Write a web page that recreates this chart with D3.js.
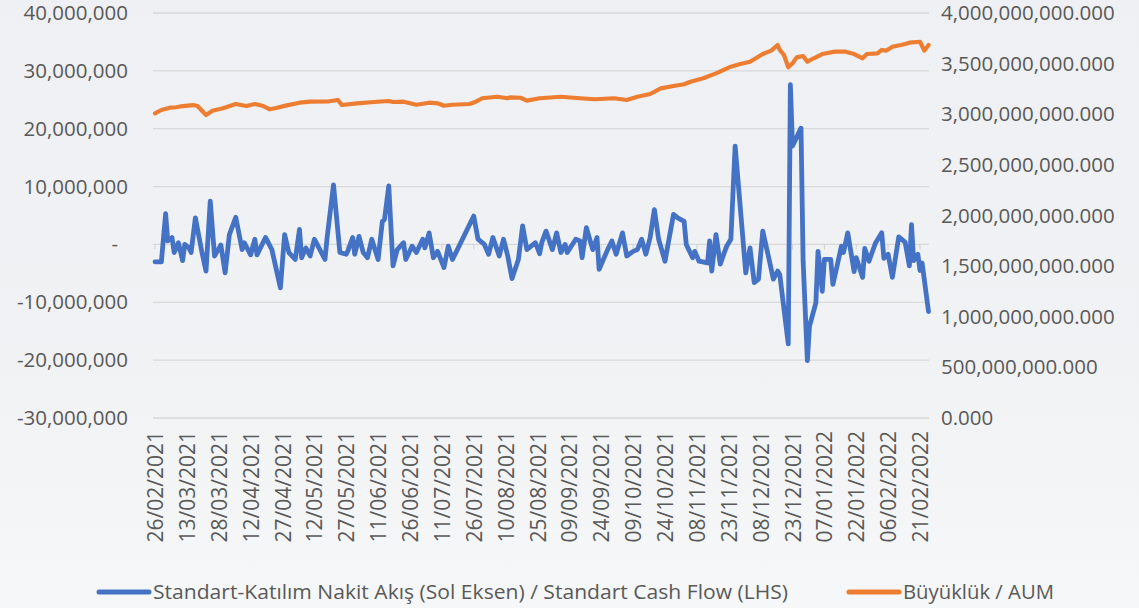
<!DOCTYPE html>
<html>
<head>
<meta charset="utf-8">
<script src="https://cdn.jsdelivr.net/npm/d3@7"></script>
<style>
  html, body { margin: 0; padding: 0; }
  body { width: 1139px; height: 608px; overflow: hidden; }
</style>
</head>
<body>
<svg id="chart" width="1139" height="608"></svg>
<script>
// cash flow (left axis, TL)
var flowDates = ["2021-02-26","2021-03-01","2021-03-03","2021-03-04","2021-03-06","2021-03-07","2021-03-09","2021-03-11","2021-03-12","2021-03-14","2021-03-15","2021-03-17","2021-03-20","2021-03-22","2021-03-24","2021-03-26","2021-03-29","2021-03-31","2021-04-02","2021-04-05","2021-04-08","2021-04-09","2021-04-12","2021-04-14","2021-04-15","2021-04-19","2021-04-22","2021-04-26","2021-04-28","2021-04-30","2021-05-03","2021-05-05","2021-05-06","2021-05-08","2021-05-10","2021-05-12","2021-05-17","2021-05-18","2021-05-21","2021-05-24","2021-05-27","2021-05-28","2021-05-30","2021-05-31","2021-06-02","2021-06-04","2021-06-06","2021-06-08","2021-06-11","2021-06-13","2021-06-14","2021-06-16","2021-06-18","2021-06-20","2021-06-23","2021-06-24","2021-06-27","2021-06-29","2021-07-02","2021-07-03","2021-07-05","2021-07-07","2021-07-09","2021-07-12","2021-07-14","2021-07-16","2021-07-26","2021-07-28","2021-07-31","2021-08-02","2021-08-04","2021-08-07","2021-08-09","2021-08-11","2021-08-13","2021-08-16","2021-08-18","2021-08-20","2021-08-24","2021-08-26","2021-08-27","2021-08-29","2021-09-01","2021-09-03","2021-09-05","2021-09-07","2021-09-08","2021-09-12","2021-09-14","2021-09-15","2021-09-17","2021-09-20","2021-09-22","2021-09-23","2021-09-27","2021-09-29","2021-10-01","2021-10-04","2021-10-06","2021-10-09","2021-10-11","2021-10-13","2021-10-15","2021-10-17","2021-10-19","2021-10-21","2021-10-24","2021-10-28","2021-10-30","2021-11-02","2021-11-03","2021-11-06","2021-11-07","2021-11-09","2021-11-13","2021-11-14","2021-11-15","2021-11-17","2021-11-19","2021-11-22","2021-11-24","2021-11-26","2021-12-01","2021-12-03","2021-12-05","2021-12-07","2021-12-09","2021-12-12","2021-12-14","2021-12-16","2021-12-17","2021-12-21","2021-12-22","2021-12-23","2021-12-27","2021-12-28","2021-12-30","2021-12-31","2022-01-03","2022-01-04","2022-01-06","2022-01-07","2022-01-10","2022-01-11","2022-01-13","2022-01-15","2022-01-16","2022-01-18","2022-01-21","2022-01-22","2022-01-25","2022-01-26","2022-01-28","2022-01-31","2022-02-03","2022-02-04","2022-02-06","2022-02-08","2022-02-11","2022-02-14","2022-02-16","2022-02-17","2022-02-18","2022-02-20","2022-02-21","2022-02-22","2022-02-25"];
var flowValues = [-3.0,-3.0,5.3,0.6,1.2,-1.4,0.3,-2.8,0,-0.6,-1.4,4.6,-1.2,-4.6,7.5,-2.0,-0.1,-4.9,1.7,4.7,-0.9,0.3,-1.8,0.9,-1.8,1.2,-0.9,-7.5,1.7,-1.4,-2.6,2.6,-2.3,-0.6,-2.0,0.9,-2.6,1.2,10.3,-1.4,-1.7,-0.9,1.2,-1.7,1.4,-1.4,-2.3,0.9,-2.6,4.0,4.3,10.1,-3.7,-0.9,0.3,-2.6,-0.3,-1.4,0.9,-0.6,2.0,-2.3,-1.2,-4.0,-0.3,-2.6,4.9,0.9,0,-1.7,1.2,-2.0,0.9,-2.0,-5.9,-2.6,3.2,-0.9,0.3,-1.6,0.3,2.3,-0.9,2.0,-1.4,0,-1.4,0.9,0.6,-2.3,2.9,-0.9,1.2,-4.3,-0.9,0.6,-1.7,2.0,-2.0,-1.2,-0.9,0.9,-1.7,1.2,6.0,0.9,-2.9,5.2,4.6,4.0,0,-2.3,-1.2,-2.9,-3.2,0.6,-4.6,1.7,-3.4,-0.3,0.9,17.0,-4.9,-0.6,-6.6,-6.0,2.3,-2.6,-6.0,-4.6,-5.2,-17.2,27.6,17.0,20.1,-2.9,-20.1,-14.1,-10.1,-1.2,-8.1,-2.6,-2.6,-6.9,-3.7,-0.3,-1.4,2.0,-4.7,-2.3,-5.7,-0.7,-2.9,0.2,2.0,-2.4,-1.7,-5.7,1.3,0.4,-3.7,3.4,-2.8,-1.7,-4.5,-3.2,-11.6]; // millions

// fund size (right axis)
var aumDates = ["2021-02-26","2021-03-01","2021-03-05","2021-03-08","2021-03-11","2021-03-16","2021-03-18","2021-03-22","2021-03-25","2021-03-30","2021-04-05","2021-04-10","2021-04-14","2021-04-18","2021-04-21","2021-04-24","2021-04-29","2021-05-05","2021-05-10","2021-05-19","2021-05-23","2021-05-25","2021-06-01","2021-06-09","2021-06-16","2021-06-18","2021-06-23","2021-06-29","2021-07-05","2021-07-09","2021-07-12","2021-07-16","2021-07-24","2021-07-27","2021-07-30","2021-08-06","2021-08-11","2021-08-12","2021-08-17","2021-08-20","2021-08-26","2021-09-05","2021-09-14","2021-09-21","2021-09-30","2021-10-06","2021-10-11","2021-10-17","2021-10-22","2021-10-28","2021-11-02","2021-11-05","2021-11-11","2021-11-17","2021-11-24","2021-11-28","2021-12-03","2021-12-09","2021-12-13","2021-12-16","2021-12-17","2021-12-19","2021-12-21","2021-12-23","2021-12-25","2021-12-28","2021-12-30","2022-01-02","2022-01-06","2022-01-12","2022-01-17","2022-01-21","2022-01-25","2022-01-27","2022-02-01","2022-02-03","2022-02-05","2022-02-08","2022-02-12","2022-02-14","2022-02-16","2022-02-21","2022-02-23","2022-02-25"];
var aumValues = [3.009,3.042,3.065,3.069,3.081,3.091,3.081,2.993,3.035,3.059,3.101,3.081,3.101,3.081,3.049,3.062,3.088,3.114,3.124,3.128,3.141,3.091,3.108,3.121,3.131,3.121,3.124,3.094,3.114,3.108,3.084,3.094,3.101,3.124,3.158,3.173,3.158,3.167,3.163,3.134,3.158,3.173,3.158,3.148,3.158,3.141,3.173,3.200,3.256,3.279,3.296,3.321,3.355,3.404,3.470,3.493,3.519,3.595,3.628,3.684,3.635,3.585,3.464,3.503,3.562,3.575,3.519,3.553,3.595,3.618,3.618,3.595,3.553,3.595,3.602,3.635,3.628,3.667,3.684,3.694,3.707,3.716,3.628,3.684]; // billions

var leftTicks = [-30e6, -20e6, -10e6, 0, 10e6, 20e6, 30e6, 40e6];
var leftLabels = ["-30,000,000","-20,000,000","-10,000,000","-","10,000,000","20,000,000","30,000,000","40,000,000"];
var rightTicks = [0, 0.5e9, 1e9, 1.5e9, 2e9, 2.5e9, 3e9, 3.5e9, 4e9];
var rightLabels = ["0.000","500,000,000.000","1,000,000,000.000","1,500,000,000.000","2,000,000,000.000","2,500,000,000.000","3,000,000,000.000","3,500,000,000.000","4,000,000,000.000"];
var dateLabels = ["26/02/2021","13/03/2021","28/03/2021","12/04/2021","27/04/2021","12/05/2021","27/05/2021","11/06/2021","26/06/2021","11/07/2021","26/07/2021","10/08/2021","25/08/2021","09/09/2021","24/09/2021","09/10/2021","24/10/2021","08/11/2021","23/11/2021","08/12/2021","23/12/2021","07/01/2022","22/01/2022","06/02/2022","21/02/2022"];

var seriesNames = ["Standart-Katılım Nakit Akış (Sol Eksen) / Standart Cash Flow (LHS)", "Büyüklük / AUM"];
var colors = ["#4472C4", "#ED7D31"];

var parse = d3.timeParse("%Y-%m-%d");
var parseLabel = d3.timeParse("%d/%m/%Y");

var svg = d3.select("#chart");
var W = 1139, H = 608;
var plotLeft = 153, plotRight = 929, plotTop = 13, plotBottom = 418;

// background
var grad = svg.append("defs").append("linearGradient")
    .attr("id", "bg").attr("x1", 0).attr("y1", 0).attr("x2", 0).attr("y2", 1);
grad.append("stop").attr("offset", "0%").attr("stop-color", "#eef0f3");
grad.append("stop").attr("offset", "60%").attr("stop-color", "#f1f2f4");
grad.append("stop").attr("offset", "100%").attr("stop-color", "#f6f7f8");
svg.append("rect").attr("width", W).attr("height", H).attr("fill", "url(#bg)");

var x = d3.scaleTime()
    .domain([parse("2021-02-26"), parse("2022-02-25")])
    .range([155, 928.5]);
var yL = d3.scaleLinear().domain([-30e6, 40e6]).range([plotBottom, plotTop]);
var yR = d3.scaleLinear().domain([0, 4e9]).range([plotBottom, plotTop]);

// gridlines
svg.append("g").selectAll("line")
    .data(leftTicks)
    .enter().append("line")
    .attr("x1", plotLeft).attr("x2", plotRight)
    .attr("y1", function (d) { return yL(d); })
    .attr("y2", function (d) { return yL(d); })
    .attr("stroke", "#d9d9d9")
    .attr("stroke-width", 1.3);

// small ticks on the zero line
svg.append("g").selectAll("line")
    .data(dateLabels)
    .enter().append("line")
    .attr("x1", function (d) { return x(parseLabel(d)); })
    .attr("x2", function (d) { return x(parseLabel(d)); })
    .attr("y1", yL(0)).attr("y2", yL(0) + 5)
    .attr("stroke", "#d0d0d0")
    .attr("stroke-width", 1);

var font = "'Open Sans', 'DejaVu Sans', sans-serif";
var axisSize = 20.5;

var axL = svg.append("g")
    .attr("transform", "translate(" + 128 + ",0)")
    .call(d3.axisLeft(yL).tickValues(leftTicks).tickSize(0).tickPadding(0)
        .tickFormat(function (d, i) { return leftLabels[i]; }));
axL.select(".domain").remove();
axL.selectAll("text")
    .attr("font-family", font).attr("font-size", axisSize).attr("fill", "#595959");
axL.selectAll("text").filter(function (d) { return d === 0; })
    .attr("dx", -10);

var axR = svg.append("g")
    .attr("transform", "translate(" + 941 + ",0)")
    .call(d3.axisRight(yR).tickValues(rightTicks).tickSize(0).tickPadding(0)
        .tickFormat(function (d, i) { return rightLabels[i]; }));
axR.select(".domain").remove();
axR.selectAll("text")
    .attr("font-family", font).attr("font-size", axisSize).attr("fill", "#595959");

// rotated date labels
svg.append("g").selectAll("text")
    .data(dateLabels)
    .enter().append("text")
    .attr("transform", function (d) {
        return "translate(" + (x(parseLabel(d)) + 8) + "," + 431 + ") rotate(-90)";
    })
    .attr("text-anchor", "end")
    .attr("font-family", font).attr("font-size", 21).attr("fill", "#595959")
    .text(function (d) { return d; });

// lines
var flow = flowDates.map(function (d, i) { return { date: parse(d), value: flowValues[i] * 1e6 }; });
var aum = aumDates.map(function (d, i) { return { date: parse(d), value: aumValues[i] * 1e9 }; });

var lineL = d3.line()
    .x(function (d) { return x(d.date); })
    .y(function (d) { return yL(d.value); });
var lineR = d3.line()
    .x(function (d) { return x(d.date); })
    .y(function (d) { return yR(d.value); });

svg.append("path").datum(flow)
    .attr("d", lineL)
    .attr("fill", "none")
    .attr("stroke", colors[0])
    .attr("stroke-width", 4.8)
    .attr("stroke-linejoin", "round")
    .attr("stroke-linecap", "round");

svg.append("path").datum(aum)
    .attr("d", lineR)
    .attr("fill", "none")
    .attr("stroke", colors[1])
    .attr("stroke-width", 4.2)
    .attr("stroke-linejoin", "round")
    .attr("stroke-linecap", "round");

// legend
var legendItems = [
    { x: 97, w: 635 },
    { x: 847, w: 151 }
];
var lg = svg.append("g").selectAll("g")
    .data(seriesNames)
    .enter().append("g")
    .attr("transform", function (d, i) { return "translate(" + legendItems[i].x + ",592)"; });
lg.append("line")
    .attr("x1", 2).attr("x2", 52)
    .attr("stroke", function (d, i) { return colors[i]; })
    .attr("stroke-width", 5)
    .attr("stroke-linecap", "round");
lg.append("text")
    .attr("x", 56).attr("y", 7)
    .attr("font-family", "'Liberation Sans Narrow', 'Open Sans', sans-serif")
    .attr("font-size", 20)
    .attr("fill", "#595959")
    .attr("textLength", function (d, i) { return legendItems[i].w; })
    .attr("lengthAdjust", "spacingAndGlyphs")
    .text(function (d) { return d; });
</script>
</body>
</html>
